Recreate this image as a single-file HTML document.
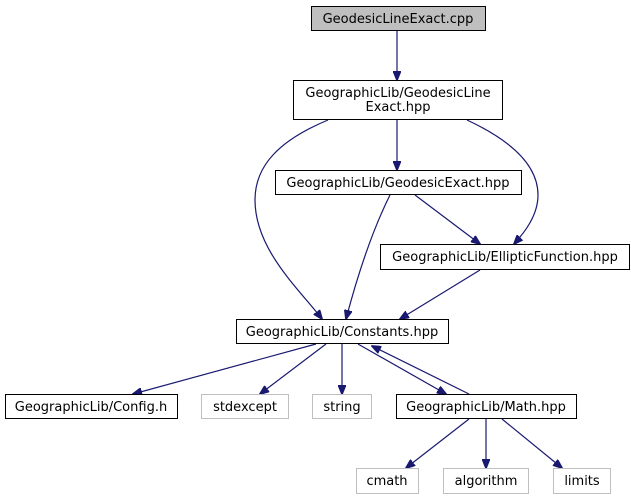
<!DOCTYPE html>
<html><head><meta charset="utf-8"><style>
html,body{margin:0;padding:0;background:#fff;}
svg{display:block;}
text{font-family:"DejaVu Sans","Liberation Sans",sans-serif;font-size:13px;fill:#000;}
</style></head><body>
<svg width="631" height="500" viewBox="0 0 631 500">
<defs>
<marker id="a" markerWidth="10" markerHeight="8" refX="9" refY="4" orient="auto" markerUnits="userSpaceOnUse">
<path d="M0,0 L10,4 L0,8 Z" fill="#191970" stroke="#191970"/>
</marker>
</defs>
<g fill="none" stroke="#191970" stroke-width="1.2">
<path d="M397,31 L397,80" marker-end="url(#a)"/>
<path d="M397,120 L397,170" marker-end="url(#a)"/>
<path d="M328,120 C280,140 255,165 255,200 C255,250 300,290 322,319" marker-end="url(#a)"/>
<path d="M467,120 C510,140 538,165 538,195 C538,215 525,232 514,244" marker-end="url(#a)"/>
<path d="M415,195 L480,244" marker-end="url(#a)"/>
<path d="M390,195 C370,235 355,285 346,319" marker-end="url(#a)"/>
<path d="M480,270 L400,319" marker-end="url(#a)"/>
<path d="M316,344 L133,394" marker-end="url(#a)"/>
<path d="M326,344 L260,394" marker-end="url(#a)"/>
<path d="M342,344 L342,394" marker-end="url(#a)"/>
<path d="M358,344 L446,394" marker-end="url(#a)"/>
<path d="M469,394 L372,346" marker-end="url(#a)"/>
<path d="M469,419 L406,468" marker-end="url(#a)"/>
<path d="M486,419 L486,468" marker-end="url(#a)"/>
<path d="M502,419 L562,468" marker-end="url(#a)"/>
</g>
<g stroke-width="1">
<rect x="311.5" y="6.5" width="174" height="24" fill="#bfbfbf" stroke="#000"/>
<rect x="293.5" y="80.5" width="209" height="39" fill="#fff" stroke="#000"/>
<rect x="275.5" y="170.5" width="246" height="24" fill="#fff" stroke="#000"/>
<rect x="380.5" y="244.5" width="249" height="25" fill="#fff" stroke="#000"/>
<rect x="236.5" y="319.5" width="212" height="24" fill="#fff" stroke="#000"/>
<rect x="5.5" y="394.5" width="172" height="24" fill="#fff" stroke="#000"/>
<rect x="201.5" y="394.5" width="87" height="24" fill="#fff" stroke="#bfbfbf"/>
<rect x="312.5" y="394.5" width="59" height="24" fill="#fff" stroke="#bfbfbf"/>
<rect x="396.5" y="394.5" width="180" height="24" fill="#fff" stroke="#000"/>
<rect x="356.5" y="468.5" width="62" height="25" fill="#fff" stroke="#bfbfbf"/>
<rect x="443.5" y="468.5" width="85" height="25" fill="#fff" stroke="#bfbfbf"/>
<rect x="553.5" y="468.5" width="57" height="25" fill="#fff" stroke="#bfbfbf"/>
</g>
<g text-anchor="middle">
<text x="398" y="23">GeodesicLineExact.cpp</text>
<text x="398" y="97">GeographicLib/GeodesicLine</text>
<text x="398" y="111">Exact.hpp</text>
<text x="398" y="187">GeographicLib/GeodesicExact.hpp</text>
<text x="505" y="261">GeographicLib/EllipticFunction.hpp</text>
<text x="342" y="336">GeographicLib/Constants.hpp</text>
<text x="91" y="411">GeographicLib/Config.h</text>
<text x="245" y="411">stdexcept</text>
<text x="342" y="411">string</text>
<text x="486" y="411">GeographicLib/Math.hpp</text>
<text x="387" y="485">cmath</text>
<text x="486" y="485">algorithm</text>
<text x="582" y="485">limits</text>
</g>
</svg>
</body></html>
